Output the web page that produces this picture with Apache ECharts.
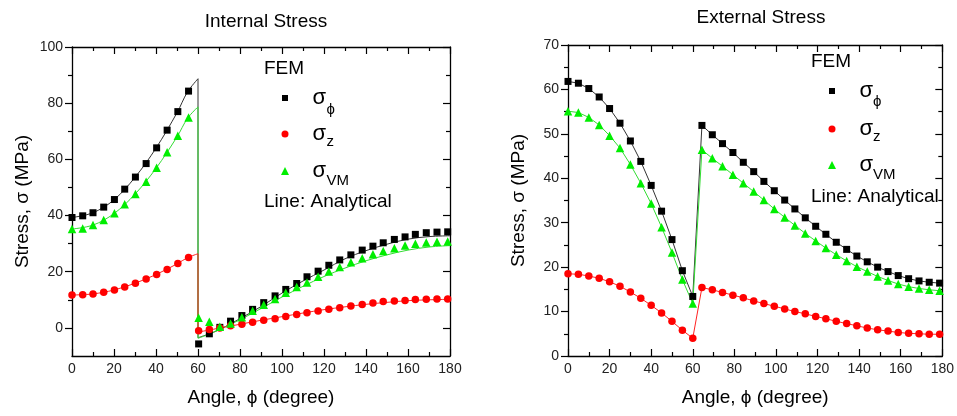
<!DOCTYPE html>
<html>
<head>
<meta charset="utf-8">
<script src="https://cdn.jsdelivr.net/npm/echarts@6/dist/echarts.min.js"></script>
<style>
html,body{margin:0;padding:0;background:#fff;}
#chart{width:957px;height:416px;}
</style>
</head>
<body>
<div id="chart"></div>
<script>
// ---------- Internal stress (left panel) : FEM markers ----------
const intAngleA = [0, 5.1, 10, 15.1, 20.2, 25.1, 30.2, 35.3, 40.3, 45.3, 50.4, 55.5];
const intAngleB = [60.3, 65.4, 70.4, 75.5, 80.9, 86.0, 91.3, 96.7, 101.8, 107.0, 111.9, 117.2, 122.3, 127.5, 132.8, 138.2, 143.3, 148.2, 153.5, 158.6, 163.5, 168.7, 173.8, 178.9];
const intPhiA = [39.3, 39.9, 41.0, 43.0, 45.7, 49.4, 53.7, 58.5, 64.1, 70.4, 77.0, 84.3];
const intPhiB = [-5.7, -2.1, 0.2, 2.4, 4.4, 6.6, 9.0, 11.4, 13.7, 15.8, 18.2, 20.2, 22.3, 24.2, 26.0, 27.7, 29.1, 30.3, 31.5, 32.4, 33.3, 33.9, 34.1, 34.2];
const intZA = [11.7, 11.8, 12.1, 12.7, 13.5, 14.6, 15.9, 17.4, 19.0, 20.8, 22.9, 25.1];
const intZB = [-1.0, -0.6, 0.0, 0.8, 1.3, 2.0, 2.7, 3.3, 4.1, 4.8, 5.4, 6.0, 6.6, 7.2, 7.8, 8.3, 8.9, 9.4, 9.6, 9.8, 10.1, 10.2, 10.3, 10.3];
const intVMA = [35.2, 35.4, 36.6, 38.4, 40.8, 44.0, 47.7, 52.0, 57.0, 62.5, 68.4, 74.9];
const intVMB = [3.6, 2.2, 0.4, 1.6, 3.8, 6.1, 8.2, 10.3, 12.5, 14.6, 16.2, 18.2, 20.1, 21.7, 23.4, 24.8, 26.2, 27.4, 28.4, 29.3, 30.0, 30.4, 30.7, 30.8];

// ---------- Internal stress : analytical lines ----------
const intLineAngA = [0, 10, 20, 30, 40, 50, 55, 60];
const intLinePhiA = [39.3, 41.0, 45.6, 53.6, 64.0, 76.6, 84.0, 88.7];
const intLineVMA  = [35.2, 36.6, 40.7, 47.6, 56.8, 68.0, 74.6, 78.7];
const intLineZA   = [11.7, 12.1, 13.5, 15.9, 19.0, 22.8, 25.0, 26.4];
const intLineAngB = [60, 65, 70, 80, 90, 100, 110, 120, 130, 140, 150, 160, 170, 180];
const intLinePhiB = [-3.5, -2.2, -0.7, 3.3, 7.6, 12.4, 16.7, 20.6, 24.6, 27.5, 29.8, 31.6, 32.5, 32.8];
const intLineVMB  = [-3.7, -2.3, -0.6, 2.9, 6.9, 11.0, 14.8, 18.3, 21.3, 23.9, 26.0, 27.7, 28.8, 29.3];
const intLineZB   = [-1.5, -0.8, -0.1, 1.3, 2.7, 4.0, 5.3, 6.5, 7.5, 8.4, 9.1, 9.7, 10.0, 10.2];

// ---------- External stress (right panel) ----------
const extAngleA = [0, 5, 10, 15, 20, 25, 30, 35, 40, 45, 50, 55, 60];
const extAngleB = [64.4, 69.4, 74.3, 79.3, 84.3, 89.3, 94.2, 99.2, 104.2, 109.1, 114.1, 119.1, 124.0, 129.0, 134.0, 138.9, 143.9, 148.9, 153.9, 158.8, 163.8, 168.8, 173.7, 178.7];
const extPhiA = [61.8, 61.4, 60.2, 58.3, 55.7, 52.4, 48.4, 43.8, 38.4, 32.6, 26.2, 19.2, 13.4];
const extPhiB = [51.9, 49.8, 47.8, 45.8, 43.6, 41.5, 39.3, 37.2, 35.1, 33.1, 31.1, 29.2, 27.4, 25.6, 24.0, 22.5, 21.2, 20.0, 19.0, 18.1, 17.4, 16.9, 16.6, 16.4];
const extZA = [18.5, 18.4, 18.0, 17.5, 16.7, 15.7, 14.4, 13.0, 11.4, 9.7, 7.8, 5.8, 4.0];
const extZB = [15.4, 14.9, 14.3, 13.7, 13.1, 12.4, 11.8, 11.2, 10.6, 10.0, 9.5, 8.9, 8.4, 7.8, 7.3, 6.8, 6.3, 5.9, 5.6, 5.3, 5.1, 5.0, 4.9, 4.9];
const extVMA = [55.1, 54.8, 53.7, 52.0, 49.6, 46.8, 43.1, 38.9, 34.3, 29.0, 23.3, 17.2, 11.8];
const extVMB = [46.4, 44.5, 42.7, 40.8, 38.9, 37.0, 35.1, 33.1, 31.2, 29.4, 27.6, 25.9, 24.3, 22.8, 21.4, 20.1, 19.0, 17.9, 17.0, 16.2, 15.6, 15.2, 14.9, 14.7];

// ---------- texts / ticks ----------
const titles = ['Internal Stress', 'External Stress'];
const xName = 'Angle, \u03d5 (degree)';
const yName = 'Stress, \u03c3 (MPa)';
const intYTicks = [0, 20, 40, 60, 80, 100];
const intYMinor = [10, 30, 50, 70, 90];
const legendNames = ['phi', 'z', 'vm'];
const legendSubs = {phi: '\u03d5', z: 'z', vm: 'VM'};

const FONT = '"Liberation Sans", Arial, Helvetica, sans-serif';
const COL = {phi: '#000000', z: '#ff0000', vm: '#00ee00'};
const LCOL = {phi: '#333333', z: '#ff2222', vm: '#33dd33'};
const SYM = {phi: 'rect', z: 'circle', vm: 'triangle'};
const SSZ = {phi: 7, z: 7.5, vm: 8.5};

function zip(a, b) { return a.map((x, i) => [x, b[i]]); }

const axLine = {show: true, onZero: false, lineStyle: {color: '#000', width: 1.3}};
const noLine = {show: false, onZero: false};
const tickStyle = {color: '#000', width: 1.2};
const lbl = {fontFamily: FONT, fontSize: 14, color: '#222'};

function xAxes(grid) {
  return [
    {gridIndex: grid, type: 'value', min: 0, max: 180, interval: 20, position: 'bottom',
     axisLine: axLine, axisTick: {show: true, inside: true, length: 7, lineStyle: tickStyle},
     minorTick: {show: true, splitNumber: 2, length: 4, lineStyle: tickStyle},
     splitLine: {show: false}, axisLabel: Object.assign({margin: 6}, lbl),
     name: xName, nameLocation: 'middle', nameGap: 32,
     nameTextStyle: {fontFamily: FONT, fontSize: 19, color: '#000'}},
    {gridIndex: grid, type: 'value', min: 0, max: 180, interval: 20, position: 'top',
     axisLine: axLine, axisTick: {show: true, inside: true, length: 7, lineStyle: tickStyle},
     minorTick: {show: true, splitNumber: 2, length: 4, lineStyle: tickStyle},
     splitLine: {show: false}, axisLabel: {show: false}}
  ];
}

const yNameCommon = {name: yName, nameLocation: 'middle', nameGap: 40,
  nameTextStyle: {fontFamily: FONT, fontSize: 19, color: '#000'}};

const option = {
  animation: false,
  backgroundColor: '#fff',
  grid: [
    {left: 72, top: 47, width: 378, height: 309},
    {left: 568, top: 45, width: 380, height: 311}
  ],
  xAxis: xAxes(0).concat(xAxes(1)),
  yAxis: [
    Object.assign({gridIndex: 0, type: 'value', min: -10, max: 100, position: 'left',
      axisLine: axLine,
      axisTick: {show: true, inside: false, length: 7, customValues: intYTicks, lineStyle: tickStyle},
      axisLabel: Object.assign({margin: 9, customValues: intYTicks}, lbl),
      splitLine: {show: false}}, yNameCommon),
    {gridIndex: 0, type: 'value', min: -10, max: 100, position: 'left',
      axisLine: noLine,
      axisTick: {show: true, inside: false, length: 4, customValues: intYMinor, lineStyle: tickStyle},
      axisLabel: {show: false}, splitLine: {show: false}},
    {gridIndex: 0, type: 'value', min: -10, max: 100, position: 'right',
      axisLine: axLine,
      axisTick: {show: true, inside: true, length: 7, customValues: intYTicks, lineStyle: tickStyle},
      axisLabel: {show: false}, splitLine: {show: false}},
    {gridIndex: 0, type: 'value', min: -10, max: 100, position: 'right',
      axisLine: noLine,
      axisTick: {show: true, inside: true, length: 4, customValues: intYMinor, lineStyle: tickStyle},
      axisLabel: {show: false}, splitLine: {show: false}},
    Object.assign({gridIndex: 1, type: 'value', min: 0, max: 70, interval: 10, position: 'left',
      axisLine: axLine,
      axisTick: {show: true, inside: false, length: 7, lineStyle: tickStyle},
      minorTick: {show: true, splitNumber: 2, length: 4, lineStyle: tickStyle},
      axisLabel: Object.assign({margin: 9}, lbl),
      splitLine: {show: false}}, yNameCommon),
    {gridIndex: 1, type: 'value', min: 0, max: 70, interval: 10, position: 'right',
      axisLine: axLine,
      axisTick: {show: true, inside: true, length: 7, lineStyle: tickStyle},
      minorTick: {show: true, splitNumber: 2, length: 4, lineStyle: tickStyle},
      axisLabel: {show: false}, splitLine: {show: false}}
  ],
  legend: [],
  graphic: [],
  series: []
};

function lineSeries(key, data, xi, yi) {
  return {type: 'line', name: key + 'Line', xAxisIndex: xi, yAxisIndex: yi, data: data,
    smooth: 0.35, showSymbol: false, symbol: 'none', z: 2, silent: true,
    lineStyle: {color: LCOL[key], width: 1}};
}
function straight(key, data, xi, yi) {
  return {type: 'line', name: key + 'Line', xAxisIndex: xi, yAxisIndex: yi, data: data,
    smooth: false, showSymbol: false, symbol: 'none', z: 2, silent: true,
    lineStyle: {color: LCOL[key], width: 1}};
}
function scatter(key, data, xi, yi) {
  return {type: 'scatter', name: key, xAxisIndex: xi, yAxisIndex: yi, data: data,
    symbol: SYM[key], symbolSize: SSZ[key], z: 3,
    itemStyle: {color: COL[key], opacity: 1}};
}

const intLines = {
  phi: [intLinePhiA, intLinePhiB], vm: [intLineVMA, intLineVMB], z: [intLineZA, intLineZB]
};
['phi', 'vm', 'z'].forEach(k => {
  const A = intLines[k][0], B = intLines[k][1];
  option.series.push(lineSeries(k, zip(intLineAngA, A), 0, 0));
  option.series.push(straight(k, [[intLineAngA[intLineAngA.length - 1], A[A.length - 1]], [intLineAngB[0], B[0]]], 0, 0));
  option.series.push(lineSeries(k, zip(intLineAngB, B), 0, 0));
});
const extAngles = extAngleA.concat(extAngleB);
[['phi', extPhiA.concat(extPhiB)], ['vm', extVMA.concat(extVMB)], ['z', extZA.concat(extZB)]].forEach(p => {
  option.series.push(straight(p[0], zip(extAngles, p[1]), 2, 4));
});
const intAngles = intAngleA.concat(intAngleB);
option.series.push(scatter('phi', zip(intAngles, intPhiA.concat(intPhiB)), 0, 0));
option.series.push(scatter('z', zip(intAngles, intZA.concat(intZB)), 0, 0));
option.series.push(scatter('vm', zip(intAngles, intVMA.concat(intVMB)), 0, 0));
option.series.push(scatter('phi', zip(extAngles, extPhiA.concat(extPhiB)), 2, 4));
option.series.push(scatter('z', zip(extAngles, extZA.concat(extZB)), 2, 4));
option.series.push(scatter('vm', zip(extAngles, extVMA.concat(extVMB)), 2, 4));

// Legends: icon + sigma from the legend component, subscripts as text
const legendIcon = {phi: 6, z: 7, vm: 8};
const legPos = [
  {cx: 285, cys: [98, 134, 171], subX: 326.5, subY: {phi: 110, z: 141.6, vm: 181}},
  {cx: 832, cys: [91, 129, 165], subX: 873, subY: {phi: 102, z: 136.6, vm: 175.2}}
];
function txt(s, x, y, size, align) {
  return {type: 'text', x: x, y: y, silent: true, z: 10,
    style: {text: s, fontFamily: FONT, fontSize: size, fill: '#000', align: align, verticalAlign: 'middle'}};
}
legPos.forEach(lp => {
  legendNames.forEach((n, i) => {
    const w = legendIcon[n];
    option.legend.push({
      data: [n], left: lp.cx - 5 - w / 2, top: lp.cys[i] - 16, orient: 'vertical', padding: 5,
      itemWidth: w, itemHeight: w, selectedMode: false,
      formatter: () => '\u03c3',
      textStyle: {fontFamily: FONT, fontSize: 22, lineHeight: 22, color: '#000',
        padding: [0, 0, 0, 22.5 - w / 2]}
    });
    option.graphic.push(txt(legendSubs[n], lp.subX, lp.subY[n], 15, 'left'));
  });
});

option.graphic.push(txt(titles[0], 266, 22, 19, 'center'));
option.graphic.push(txt(titles[1], 761, 18, 19, 'center'));
option.graphic.push(txt('FEM', 264, 69, 19, 'left'));
option.graphic.push(txt('Line: Analytical', 264, 202, 19, 'left'));
option.graphic.push(txt('FEM', 811, 62, 19, 'left'));
option.graphic.push(txt('Line: Analytical', 811, 197, 19, 'left'));

const chart = echarts.init(document.getElementById('chart'), null, {renderer: 'canvas'});
chart.setOption(option);
</script>
</body>
</html>
